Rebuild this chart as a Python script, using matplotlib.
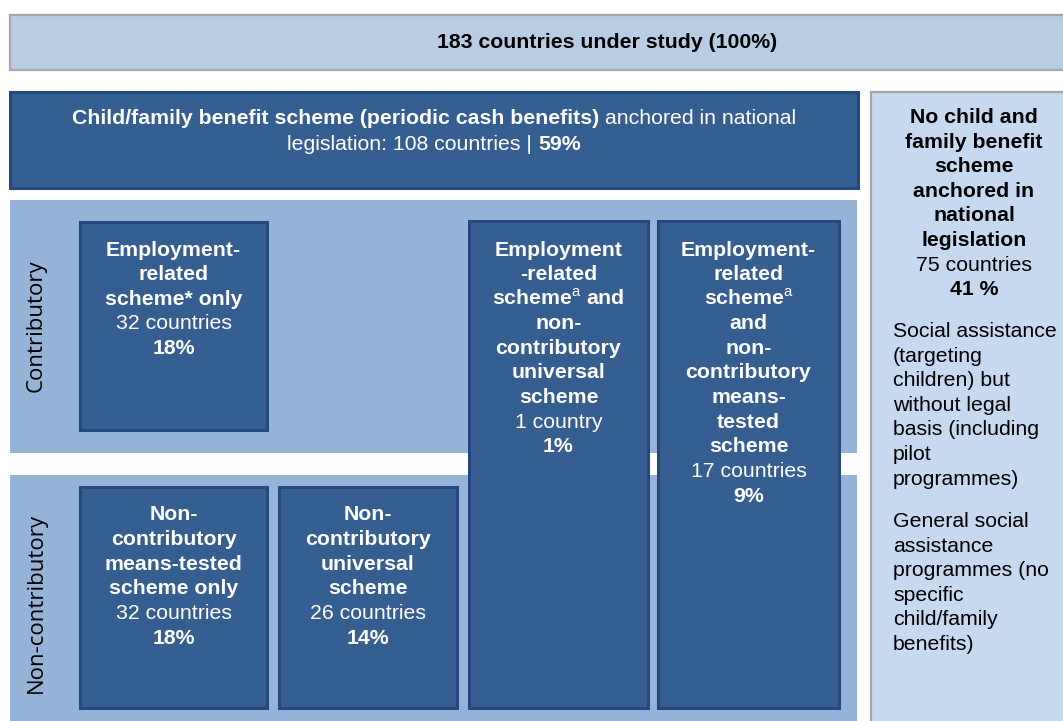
import matplotlib
matplotlib.use('Agg')
import matplotlib.pyplot as plt
from matplotlib.patches import Rectangle

plt.rcParams['font.family'] = ['Liberation Sans', 'DejaVu Sans']
plt.rcParams['mathtext.fontset'] = 'custom'
plt.rcParams['mathtext.rm'] = 'Liberation Sans'

# numbers shown in the diagram
total_countries = 183
with_law = 108
with_law_pct = 59
without_law = 75
without_law_pct = 41

# scheme boxes: title lines (bold), number of countries, share
scheme_titles = [
    ["Employment-", "related", "scheme* only"],
    ["Employment", "-related", r"scheme$^{\mathrm{a}}$ and", "non-", "contributory", "universal", "scheme"],
    ["Employment-", "related", r"scheme$^{\mathrm{a}}$", "and", "non-", "contributory", "means-", "tested", "scheme"],
    ["Non-", "contributory", "means-tested", "scheme only"],
    ["Non-", "contributory", "universal", "scheme"],
]
scheme_counts = [32, 1, 17, 32, 26]
scheme_pcts = [18, 1, 9, 18, 14]

no_law_title = ["No child and", "family benefit", "scheme", "anchored in", "national", "legislation"]
no_law_note1 = ["Social assistance", "(targeting", "children) but", "without legal", "basis (including", "pilot", "programmes)"]
no_law_note2 = ["General social", "assistance", "programmes (no", "specific", "child/family", "benefits)"]

DARK = '#365f91'
DARK_EDGE = '#24497c'
BAND = '#95b3d7'
TOP = '#b8cce4'
SIDE = '#c6d9f1'
GREY = '#a6a6a6'
FS = 15.3
STEP = 24.6

fig = plt.figure(figsize=(10.63, 7.21), dpi=100)
ax = fig.add_axes([0, 0, 1, 1])
ax.set_xlim(0, 1063)
ax.set_ylim(721, 0)
ax.axis('off')


def box(x0, y0, x1, y1, fc, ec=None, lw=0):
    ax.add_patch(Rectangle((x0, y0), x1 - x0, y1 - y0, facecolor=fc,
                           edgecolor=ec if ec else fc, linewidth=lw))


def lines(x, yb, rows, color='white', ha='center'):
    for i, (txt, bold) in enumerate(rows):
        ax.text(x, yb + i * STEP, txt, ha=ha, va='baseline', fontsize=FS,
                fontweight='bold' if bold else 'normal', color=color)


def rich(xc, yb, parts, color):
    r = fig.canvas.get_renderer()
    probe = ax.text(0, 0, "a a", fontsize=FS)
    w1 = probe.get_window_extent(r).width
    probe.set_text("aa")
    space = w1 - probe.get_window_extent(r).width
    probe.remove()
    texts = []
    for txt, bold in parts:
        t = ax.text(0, yb, txt, ha='left', va='baseline', fontsize=FS,
                    fontweight='bold' if bold else 'normal', color=color)
        texts.append((t, t.get_window_extent(r).width))
    total = sum(w for _, w in texts) + space * (len(texts) - 1)
    x = xc - total / 2
    for t, w in texts:
        t.set_x(x)
        x += w + space


def count_label(n):
    return f"{n} country" if n == 1 else f"{n} countries"


# top box
box(10, 15, 1100, 70, TOP, GREY, 1.6)
ax.text(607, 48, f"{total_countries} countries under study (100%)", ha='center',
        va='baseline', fontsize=FS, fontweight='bold', color='black')

# side box (no scheme)
box(871, 92, 1100, 740, SIDE, GREY, 1.6)
lines(974, 123, [(s, True) for s in no_law_title] +
      [(count_label(without_law), False), (f"{without_law_pct} %", True)], color='black')
lines(893, 337, [(s, False) for s in no_law_note1], color='black', ha='left')
lines(893, 527, [(s, False) for s in no_law_note2], color='black', ha='left')

# scheme header
box(10, 92, 858, 188, DARK, DARK_EDGE, 2.2)
rich(434, 124, [("Child/family benefit scheme (periodic cash benefits)", True),
                ("anchored in national", False)], 'white')
rich(434, 150, [(f"legislation: {with_law} countries |", False), (f"{with_law_pct}%", True)], 'white')

# contributory / non-contributory bands
box(10, 200, 857, 453, BAND)
box(10, 475, 857, 740, BAND)
ax.text(36, 326, "Contributory", rotation=90, ha='center', va='center',
        fontsize=16, family='Open Sans', color='black')
ax.text(36, 603, "Non-contributory", rotation=90, ha='center', va='center',
        fontsize=16, family='Open Sans', color='black')

# scheme boxes: x0, y0, x1, y1, first baseline
frames = [
    (80, 222, 267, 430, 255.5),
    (469, 221, 648, 708, 255.5),
    (658, 221, 839, 708, 255.5),
    (80, 487, 267, 708, 520.5),
    (279, 487, 457, 708, 520.5),
]
for (x0, y0, x1, y1, yb), title, n, p in zip(frames, scheme_titles, scheme_counts, scheme_pcts):
    box(x0, y0, x1, y1, DARK, DARK_EDGE, 2.2)
    rows = [(s, True) for s in title] + [(count_label(n), False), (f"{p}%", True)]
    lines((x0 + x1) / 2, yb, rows)

fig.savefig('out.png', dpi=100)
